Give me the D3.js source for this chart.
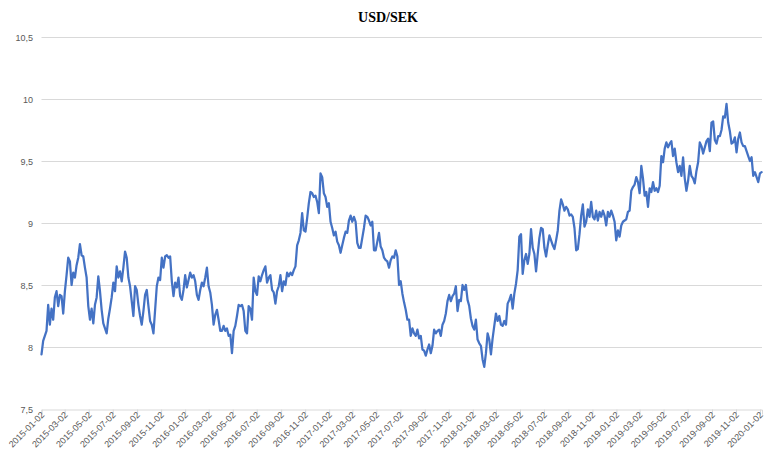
<!DOCTYPE html>
<html><head><meta charset="utf-8">
<script src="https://cdnjs.cloudflare.com/ajax/libs/d3/7.8.5/d3.min.js"></script>
<style>
html,body{margin:0;padding:0;background:#fff;}
svg{display:block;}
</style></head>
<body>
<svg id="chart" width="777" height="462"></svg>
<script>
const title = "USD/SEK";
const startDate = "2015-01-02";
const endDate = "2020-01-06";
const yTicks = [7.5, 8, 8.5, 9, 9.5, 10, 10.5];
const tickLabels = ["2015-01-02","2015-03-02","2015-05-02","2015-07-02","2015-09-02","2015-11-02",
"2016-01-02","2016-03-02","2016-05-02","2016-07-02","2016-09-02","2016-11-02",
"2017-01-02","2017-03-02","2017-05-02","2017-07-02","2017-09-02","2017-11-02",
"2018-01-02","2018-03-02","2018-05-02","2018-07-02","2018-09-02","2018-11-02",
"2019-01-02","2019-03-02","2019-05-02","2019-07-02","2019-09-02","2019-11-02","2020-01-02"];
// USD/SEK values, evenly spaced in time from startDate to endDate
const values2015 = [7.94,8.05,8.09,8.13,8.34,8.18,8.31,8.22,8.40,8.45,8.33,8.42,8.41,8.27,8.45,8.58,8.72,8.69,8.50,8.60,
8.56,8.66,8.72,8.83,8.74,8.73,8.64,8.56,8.33,8.22,8.31,8.19,8.34,8.40,8.57,8.45,8.30,8.19,8.15,8.11,
8.23,8.31,8.40,8.52,8.45,8.65,8.56,8.61,8.53,8.64,8.77,8.72,8.56,8.49,8.37,8.25,8.49,8.46,8.34,8.25,
8.18,8.29,8.42,8.46,8.33,8.21,8.18,8.11,8.30];
const values2016a = [8.49,8.56,8.54,8.72,8.64,8.73,8.74,8.72,8.73,8.53,8.41,8.52,8.48,8.56,8.41,8.38,8.46,8.58,8.48,8.54,
8.60,8.56,8.58,8.53,8.42,8.38,8.46,8.52,8.49,8.56,8.64,8.49,8.44,8.34,8.18,8.26,8.30,8.22,8.13,8.13,
8.17,8.13,8.15,8.09,8.10,7.95,8.13,8.17,8.25,8.34,8.33,8.34,8.29,8.13,8.11,8.33,8.31,8.22,8.56,8.45,
8.42,8.57,8.53,8.58,8.62,8.65,8.52,8.56,8.58,8.46,8.44,8.35];
const values2016b = [8.45,8.49,8.58,8.45,8.53,8.50,8.60,8.57,8.60,8.58,8.62,8.65,8.82,8.86,8.92,9.08,8.94,8.93,9.04,9.16,
9.25,9.24,9.21,9.22,9.17,9.08,9.40,9.37,9.24,9.21,9.13,9.16,9.01,8.96,8.90,8.93,8.85,8.82,8.76,8.82,
8.88,8.93,8.92,9.02,9.06,9.01,9.05,9.01,8.84,8.80,8.80,8.88,8.96,9.06,9.05,9.02,8.98,9.01,8.78,8.78,
8.85,8.92,8.81,8.78,8.72,8.70,8.69,8.64,8.70,8.73,8.72,8.78];
const values2017 = [8.73,8.50,8.53,8.43,8.36,8.30,8.22,8.22,8.09,8.15,8.11,8.09,8.14,8.07,8.09,7.98,7.97,7.93,7.98,8.02,
7.95,8.01,8.14,8.11,8.13,8.14,8.09,8.18,8.21,8.27,8.37,8.42,8.37,8.41,8.43,8.49,8.29,8.38,8.37,8.50,
8.46,8.50,8.38,8.33,8.23,8.17,8.14,8.22,8.06,8.03,8.01,7.90,7.84,7.95,8.11,8.06,7.94,8.07,8.17,8.27,
8.21,8.25,8.18,8.17,8.21,8.18,8.35,8.38,8.42,8.31,8.43,8.51];
const values2018 = [8.62,8.89,8.91,8.59,8.70,8.75,8.67,8.75,8.95,8.80,8.75,8.61,8.75,8.88,8.96,8.95,8.80,8.73,8.82,8.90,
8.86,8.82,8.79,8.86,8.94,9.10,9.19,9.15,9.10,9.13,9.11,9.06,9.07,9.05,8.96,8.78,8.79,8.91,9.06,9.15,
8.97,9.01,9.11,9.05,9.17,9.05,9.03,9.10,9.02,9.09,9.05,9.10,9.06,8.98,9.09,9.05,9.10,9.06,9.01,8.86,
8.94,8.89,8.98,9.01,9.02,9.03,9.09,9.10,9.26,9.29,9.31,9.37];
const values2019 = [9.33,9.24,9.46,9.36,9.22,9.25,9.13,9.28,9.25,9.33,9.26,9.28,9.25,9.30,9.54,9.49,9.60,9.65,9.61,9.64,
9.66,9.54,9.60,9.49,9.41,9.46,9.38,9.53,9.36,9.26,9.34,9.46,9.38,9.36,9.32,9.42,9.49,9.65,9.62,9.56,
9.61,9.66,9.68,9.58,9.81,9.82,9.67,9.64,9.70,9.70,9.75,9.86,9.85,9.96,9.81,9.74,9.64,9.65,9.69,9.57,
9.68,9.73,9.65,9.62,9.62,9.58,9.54,9.50,9.53,9.38,9.41,9.37,9.33,9.40,9.41];

const values = [].concat(values2015, values2016a, values2016b, values2017, values2018, values2019);
const parse = d3.utcParse("%Y-%m-%d");
const t0 = parse(startDate).getTime(), t1 = parse(endDate).getTime();
const data = values.map((v, i) => ({date: new Date(t0 + (t1 - t0) * i / (values.length - 1)), value: v}));

const svg = d3.select("#chart");
const margin = {left: 41.5, right: 15, top: 37, bottom: 53};
const W = 777, H = 462;
const x = d3.scaleUtc().domain([parse("2015-01-02"), parse("2020-01-07")]).range([margin.left, W - margin.right]);
const y = d3.scaleLinear().domain([7.5, 10.5]).range([H - margin.bottom, margin.top]);

// gridlines
svg.append("g").selectAll("line").data(yTicks.slice(1)).join("line")
  .attr("x1", x.range()[0]).attr("x2", x.range()[1])
  .attr("y1", d => Math.round(y(d)) + 0.5).attr("y2", d => Math.round(y(d)) + 0.5)
  .attr("stroke", "#d9d9d9").attr("stroke-width", 1);

// y labels
const fmt = d => String(d).replace(".", ",");
svg.append("g").selectAll("text").data(yTicks).join("text")
  .attr("x", 33).attr("y", d => y(d) + 3.5)
  .attr("text-anchor", "end")
  .attr("font-family", "Liberation Sans, Arial, sans-serif").attr("font-size", 9)
  .attr("fill", "#595959").text(fmt);

// x axis
const tickDates = tickLabels.map(parse);
const xAxis = d3.axisBottom(x).tickValues(tickDates).tickSize(5).tickFormat(d3.utcFormat("%Y-%m-%d"));
const gx = svg.append("g").attr("transform", `translate(0,${Math.round(y(7.5)) + 0.5})`).call(xAxis);
gx.select(".domain").attr("stroke", "#d9d9d9").attr("stroke-width", 1);
gx.selectAll(".tick line").attr("stroke", "#d9d9d9");
gx.selectAll(".tick text")
  .attr("font-family", "Liberation Sans, Arial, sans-serif").attr("font-size", 9)
  .attr("fill", "#595959")
  .attr("text-anchor", "end")
  .attr("dy", null).attr("y", 0)
  .attr("transform", "translate(3,6) rotate(-45)");

// line
const line = d3.line().x(d => x(d.date)).y(d => y(d.value));
svg.append("path").datum(data)
  .attr("d", line).attr("fill", "none")
  .attr("stroke", "#4472C4").attr("stroke-width", 2.25)
  .attr("stroke-linejoin", "round").attr("stroke-linecap", "round");

// title
svg.append("text").attr("x", 388).attr("y", 22)
  .attr("text-anchor", "middle")
  .attr("font-family", "Liberation Serif, serif").attr("font-weight", "bold")
  .attr("font-size", 14).attr("fill", "#000").text(title);
</script>
</body></html>
